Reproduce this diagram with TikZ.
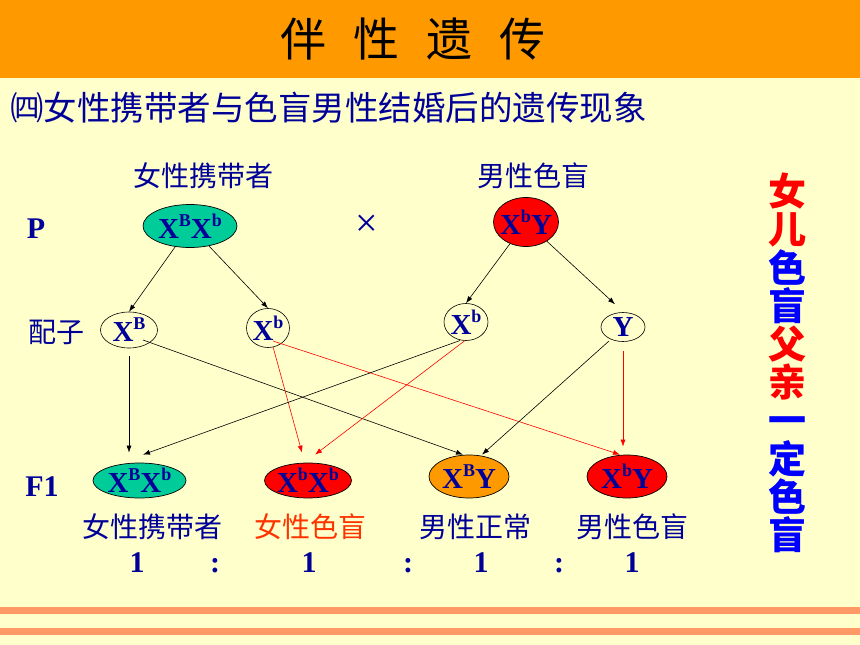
\documentclass[tikz,border=0pt]{standalone}
\usepackage{fontspec}
\setmainfont{Liberation Serif}
\newfontfamily\cjk{Noto Sans CJK SC}
\usetikzlibrary{arrows.meta,shapes.geometric,calc}
\definecolor{bgc}{HTML}{FFFFCC}
\definecolor{barc}{HTML}{FF9900}
\definecolor{navyc}{HTML}{000099}
\definecolor{tealg}{HTML}{00CC99}
\definecolor{redc}{HTML}{FF0000}
\definecolor{orangec}{HTML}{FF9900}
\definecolor{salmonc}{HTML}{FF9966}
\definecolor{redorange}{HTML}{FF3300}
\definecolor{vblue}{HTML}{0000FF}
\newcommand\gsp[1]{\raisebox{0.42em}{\fontsize{18}{18}\selectfont #1}}
\tikzset{
  geno/.style={ellipse, draw=black, line width=0.7pt, inner sep=0pt},
  gam/.style={ellipse, draw=black, line width=0.6pt, inner sep=0pt},
  gtxt/.style={text=navyc, font=\fontsize{29}{29}\selectfont\bfseries, inner sep=0pt},
  lab/.style={text=navyc, font=\cjk\fontsize{28}{28}\selectfont, inner sep=0pt},
  serifb/.style={text=navyc, font=\fontsize{30}{30}\selectfont\bfseries, inner sep=0pt},
  arr/.style={-{Latex[length=7pt,width=5pt]}, line width=0.6pt, draw=black},
  rarr/.style={arr, draw=redc},
}
\begin{document}
\begin{tikzpicture}[x=1pt,y=-1pt]
\useasboundingbox (0,0) rectangle (860,645);
\fill[bgc] (0,0) rectangle (860,645);
\fill[barc] (0,0) rectangle (860,78);
\fill[salmonc] (0,607) rectangle (860,614);
\fill[salmonc] (0,628) rectangle (860,635);

% title and subtitle
\node[inner sep=0pt, font=\cjk\fontsize{46}{46}\selectfont] (title) at (413,39)
  {伴\hspace{27pt}性\hspace{27pt}遗\hspace{27pt}传};
\node[anchor=west, inner sep=0pt, text=navyc, font=\cjk\fontsize{33.5}{33.5}\selectfont] (sub) at (10,108)
  {㈣女性携带者与色盲男性结婚后的遗传现象};

% row labels
\node[lab] (lf) at (203,176) {女性携带者};
\node[lab] (lm) at (533,176) {男性色盲};
\node[serifb] (P) at (36,229) {P};
\node[text=navyc, inner sep=0pt, font=\fontsize{40}{40}\selectfont] (cross) at (367,226) {×};
\node[lab] (pz) at (56,332) {配子};
\node[serifb] (F1) at (42,487) {F1};

% parents
\node[geno, fill=tealg, minimum width=94pt, minimum height=43pt] (p1) at (190,226) {};
\node[gtxt] (p1t) at (p1) {X\gsp{B}X\gsp{b}};
\node[geno, fill=redc, minimum width=65pt, minimum height=49pt] (p2) at (526,222) {};
\node[gtxt] (p2t) at (p2) {X\gsp{b}Y};

% gametes
\node[gam, minimum width=57pt, minimum height=36pt] (gXB) at (129,330) {};
\node[gtxt] (gXBt) at (gXB) {X\gsp{B}};
\node[gam, minimum width=43pt, minimum height=39pt] (gXb) at (268,328) {};
\node[gtxt] (gXbt) at (gXb) {X\gsp{b}};
\node[gam, minimum width=44pt, minimum height=37pt] (gfXb) at (466,322) {};
\node[gtxt] (gfXbt) at (gfXb) {X\gsp{b}};
\node[gam, minimum width=44pt, minimum height=29pt] (gY) at (623,327) {};
\node[gtxt] (gYt) at (gY) {Y};

% F1
\node[geno, fill=tealg, minimum width=93pt, minimum height=35pt] (fXBXb) at (139.5,480.5) {};
\node[gtxt] (fXBXbt) at (fXBXb) {X\gsp{B}X\gsp{b}};
\node[geno, fill=redc, minimum width=87pt, minimum height=35pt] (fXbXb) at (308,480.5) {};
\node[gtxt] (fXbXbt) at (fXbXb) {X\gsp{b}X\gsp{b}};
\node[geno, fill=orangec, minimum width=80pt, minimum height=43pt] (fXBY) at (469,476.5) {};
\node[gtxt] (fXBYt) at (fXBY) {X\gsp{B}Y};
\node[geno, fill=redc, minimum width=80pt, minimum height=43pt] (fXbY) at (627,476.5) {};
\node[gtxt] (fXbYt) at (fXbY) {X\gsp{b}Y};

% F1 labels
\node[lab] (l1) at (152,527) {女性携带者};
\node[lab, text=redorange] (l2) at (310,527) {女性色盲};
\node[lab] (l3) at (475,527) {男性正常};
\node[lab] (l4) at (632,527) {男性色盲};

% ratios
\node[serifb, anchor=base] (r1) at (137,572) {1};
\node[serifb, anchor=base] (c1) at (215,572) {:};
\node[serifb, anchor=base] (r2) at (309,572) {1};
\node[serifb, anchor=base] (c2) at (408,572) {:};
\node[serifb, anchor=base] (r3) at (481,572) {1};
\node[serifb, anchor=base] (c3) at (559,572) {:};
\node[serifb, anchor=base] (r4) at (632,572) {1};

% vertical slogan
\node[inner sep=0pt, align=center, font=\cjk\bfseries\fontsize{38}{38.2}\selectfont] (vt) at (787.5,363)
  {\textcolor{redc}{女}\\\textcolor{redc}{儿}\\\textcolor{vblue}{色}\\\textcolor{vblue}{盲}\\
   \textcolor{redc}{父}\\\textcolor{redc}{亲}\\\textcolor{vblue}{一}\\\textcolor{vblue}{定}\\
   \textcolor{vblue}{色}\\\textcolor{vblue}{盲}};

% arrows parents -> gametes
\draw[arr] (p1) -- (gXB.north);
\draw[arr] (p1) -- (gXb.north);
\draw[arr] (p2) -- (gfXb.north);
\draw[arr] (p2) -- ($(gY.north)+(-8,-8)$);

% arrows gametes -> F1
\draw[arr] ($(gXB.south)+(0,8)$) -- ($(gXB.south |- fXBXb.north)+(0,-10)$);
\draw[arr] ($(gXB.center)+(14,10)$) -- ($(fXBY.north)+(-6,0)$);
\draw[rarr] (gXb.-75) -- ($(fXbXb.north)+(-6,-10)$);
\draw[rarr] ($(gXb.center)+(5,13)$) -- ($(fXbY.north)+(-7,0)$);
\draw[arr] ($(gfXb.center)+(-6,18.5)$) -- ($(fXBXb.north)+(3.5,-8)$);
\draw[rarr] ($(gfXb.center)+(-1,18.5)$) -- ($(fXbXb.north)+(7,-8)$);
\draw[arr] ($(gY.center)+(-14,14)$) -- ($(fXBY.north)+(13,0)$);
\draw[rarr] ($(gY.south)+(0,9)$) -- ($(fXbY.north)+(-4,-8)$);
\end{tikzpicture}
\end{document}
